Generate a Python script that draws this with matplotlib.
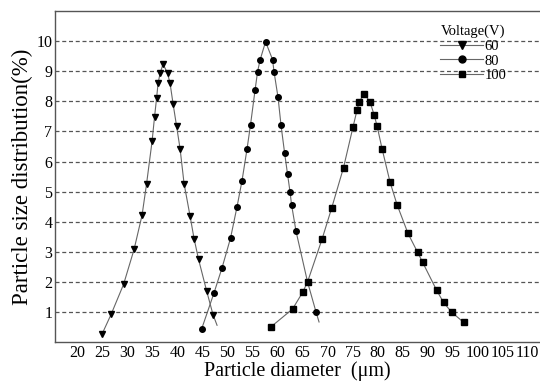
import matplotlib.pyplot as plt
import numpy as np

plt.rcParams['font.family'] = ['Liberation Serif', 'DejaVu Serif']

# Okunan veri noktalari (Particle diameter, distribution %)
x60 = [24.9, 26.7, 29.2, 31.3, 32.9, 33.8, 34.9, 35.4, 35.8, 36.1, 36.5, 37.1,
       38.0, 38.5, 39.1, 39.8, 40.5, 41.3, 42.5, 43.3, 44.2, 45.8, 47.1, 47.9]
y60 = [0.27, 0.92, 1.92, 3.08, 4.22, 5.26, 6.67, 7.49, 8.1, 8.6, 8.93, 9.24,
       8.93, 8.6, 7.92, 7.18, 6.43, 5.27, 4.19, 3.44, 2.75, 1.71, 0.91, 0.56]
m60 = len(x60) - 1  # son nokta sadece cizgi

x80 = [44.8, 47.3, 48.9, 50.6, 51.9, 52.9, 53.9, 54.6, 55.5, 56.0, 56.5, 57.6,
       59.0, 59.3, 60.1, 60.7, 61.4, 62.0, 62.5, 62.8, 63.7, 66.0, 67.7, 68.3]
y80 = [0.43, 1.64, 2.47, 3.46, 4.5, 5.37, 6.42, 7.23, 8.37, 8.98, 9.37, 9.98,
       9.39, 8.98, 8.13, 7.2, 6.3, 5.58, 4.99, 4.57, 3.68, 2.0, 1.0, 0.67]
m80 = len(x80) - 1

x100 = [58.7, 63.0, 65.0, 66.0, 68.9, 70.8, 73.2, 75.1, 75.9, 76.3, 77.3, 78.5,
        79.3, 79.9, 80.9, 82.5, 83.9, 86.1, 88.0, 89.0, 91.8, 93.2, 94.8, 97.2]
y100 = [0.51, 1.1, 1.65, 2.0, 3.42, 4.44, 5.8, 7.15, 7.71, 7.97, 8.26, 7.98,
        7.56, 7.19, 6.43, 5.32, 4.57, 3.61, 2.99, 2.66, 1.73, 1.32, 1.0, 0.66]

xticks = list(range(20, 115, 5))
yticks = list(range(1, 11))

fig = plt.figure(figsize=(5.4, 3.81), dpi=100)
ax = fig.add_axes([0.102, 0.102, 0.898, 0.869])

gri = '#666666'
ax.plot(x60, y60, color=gri, lw=0.8)
ax.plot(x80, y80, color=gri, lw=0.8)
ax.plot(x100, y100, color=gri, lw=0.8)
ax.plot(x60[:m60], y60[:m60], 'v', color='black', ms=4.8, ls='none')
ax.plot(x80[:m80], y80[:m80], 'o', color='black', ms=4, ls='none')
ax.plot(x100, y100, 's', color='black', ms=3.7, ls='none')

# legend icin bos cizgiler
h1, = ax.plot([], [], marker='v', ms=5.5, lw=0.8)
h2, = ax.plot([], [], marker='o', ms=5, lw=0.8)
h3, = ax.plot([], [], marker='s', ms=4.5, lw=0.8)
for h in (h1, h2, h3):
    h.set_color(gri)
    h.set_markerfacecolor('black')
    h.set_markeredgecolor('black')
leg = ax.legend([h1, h2, h3], ['60', '80', '100'], title='Voltage(V)',
                loc='upper left', bbox_to_anchor=(0.775, 0.985), frameon=False,
                fontsize=10.5, title_fontsize=10.5, handlelength=3.0,
                handletextpad=0.1, labelspacing=0.1, borderpad=0.1)

ax.set_xlim(15.5, 112.5)
ax.set_ylim(0, 11)
ax.set_xticks(xticks)
ax.set_xticklabels([str(t) for t in xticks])
ax.set_xticks(list(range(25, 110, 10)), minor=True)
ax.tick_params(axis='x', which='major', length=0, pad=2, labelsize=11.5)
ax.tick_params(axis='x', which='minor', direction='in', length=8,
               color='#555555', width=0.8)
ax.set_yticks(yticks)
ax.tick_params(axis='y', length=0, pad=2, labelsize=11.5)

ax.grid(axis='y', ls=(0, (3.2, 2.2)), color='#555555', lw=0.9)
for s in ('left', 'top', 'bottom'):
    ax.spines[s].set_color('#555555')
    ax.spines[s].set_linewidth(1.0)
ax.spines['right'].set_visible(False)

ax.set_xlabel('Particle diameter  (μm)', fontsize=14.5, labelpad=0)
ax.set_ylabel('Particle size distribution(%)', fontsize=16.5, labelpad=2)

fig.savefig('out.png', dpi=100)
